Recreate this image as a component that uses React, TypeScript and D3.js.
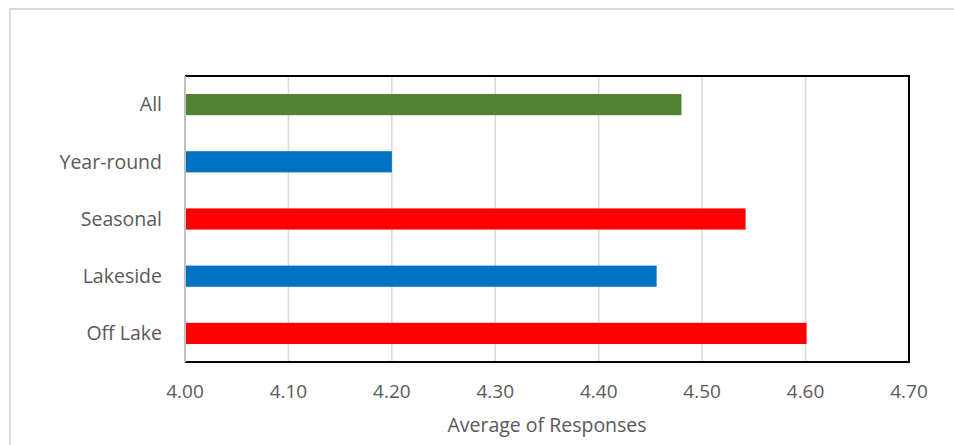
import React, { useEffect, useRef } from "react";
import * as d3 from "d3";

const categories = ["All", "Year-round", "Seasonal", "Lakeside", "Off Lake"];
const values = [4.48, 4.2, 4.542, 4.456, 4.601];
const barColors = ["#548235", "#0070C0", "#FF0000", "#0070C0", "#FF0000"];
const tickValues = [4.0, 4.1, 4.2, 4.3, 4.4, 4.5, 4.6, 4.7];
const axisTitle = "Average of Responses";

const W = 954;
const H = 445;
const FONT = "'Open Sans', Lato, sans-serif";
const TEXT = "#595959";

export default function App() {
  const ref = useRef<SVGSVGElement | null>(null);

  useEffect(() => {
    const svg = d3.select(ref.current);
    svg.selectAll("*").remove();

    const plot = { left: 185, right: 909, top: 76, bottom: 362 };

    const x = d3.scaleLinear().domain([4.0, 4.7]).range([plot.left, plot.right]);
    const y = d3
      .scaleBand<string>()
      .domain(categories)
      .range([plot.top, plot.bottom])
      .paddingInner(0.63)
      .paddingOuter(0.315);

    // outer chart frame
    svg
      .append("rect")
      .attr("x", 10)
      .attr("y", 9)
      .attr("width", W + 20)
      .attr("height", H + 20)
      .attr("fill", "#fff")
      .attr("stroke", "#d9d9d9")
      .attr("stroke-width", 2);

    // vertical gridlines
    svg
      .append("g")
      .selectAll("line")
      .data(tickValues.slice(1, -1))
      .join("line")
      .attr("x1", (d) => x(d))
      .attr("x2", (d) => x(d))
      .attr("y1", plot.top)
      .attr("y2", plot.bottom)
      .attr("stroke", "#d9d9d9")
      .attr("stroke-width", 1.5);

    // bars
    svg
      .append("g")
      .selectAll("rect")
      .data(categories)
      .join("rect")
      .attr("x", x(4.0))
      .attr("y", (d) => y(d)!)
      .attr("width", (_, i) => x(values[i]) - x(4.0))
      .attr("height", y.bandwidth())
      .attr("fill", (_, i) => barColors[i]);

    // plot frame: top, right and bottom in black, left axis in gray
    svg
      .append("path")
      .attr(
        "d",
        `M${plot.left},${plot.top}H${plot.right}V${plot.bottom}H${plot.left}`
      )
      .attr("fill", "none")
      .attr("stroke", "#000")
      .attr("stroke-width", 2);
    svg
      .append("line")
      .attr("x1", plot.left)
      .attr("x2", plot.left)
      .attr("y1", plot.top)
      .attr("y2", plot.bottom)
      .attr("stroke", "#bfbfbf")
      .attr("stroke-width", 2);

    // category labels
    svg
      .append("g")
      .selectAll("text")
      .data(categories)
      .join("text")
      .attr("x", 162)
      .attr("y", (d) => y(d)! + y.bandwidth() / 2)
      .attr("dy", "0.35em")
      .attr("text-anchor", "end")
      .attr("font-family", FONT)
      .attr("font-size", 19.5)
      .attr("fill", TEXT)
      .text((d) => d);

    // x tick labels
    svg
      .append("g")
      .selectAll("text")
      .data(tickValues)
      .join("text")
      .attr("x", (d) => x(d))
      .attr("y", 391)
      .attr("dy", "0.35em")
      .attr("text-anchor", "middle")
      .attr("font-family", FONT)
      .attr("font-size", 19)
      .attr("fill", TEXT)
      .text((d) => d3.format(".2f")(d));

    // axis title
    svg
      .append("text")
      .attr("x", (plot.left + plot.right) / 2)
      .attr("y", 425)
      .attr("dy", "0.35em")
      .attr("text-anchor", "middle")
      .attr("font-family", FONT)
      .attr("font-size", 19.5)
      .attr("fill", TEXT)
      .text(axisTitle);
  }, []);

  return (
    <svg
      ref={ref}
      width={W}
      height={H}
      style={{ position: "absolute", left: 0, top: 0, display: "block" }}
    />
  );
}
